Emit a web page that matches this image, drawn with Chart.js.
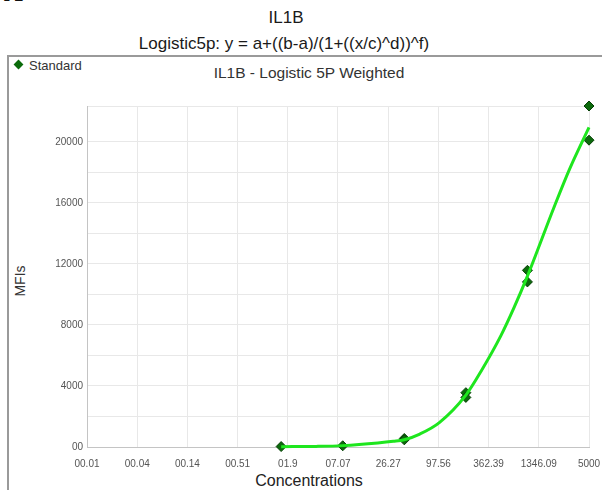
<!DOCTYPE html>
<html>
<head>
<meta charset="utf-8">
<script src="https://cdn.jsdelivr.net/npm/chart.js@4"></script>
<style>
  html, body { margin: 0; padding: 0; background: #fff; }
  body { width: 602px; height: 490px; position: relative; overflow: hidden; font-family: "Liberation Sans", Arial, sans-serif; }
  .abs { position: absolute; white-space: nowrap; }
  #frame { position: absolute; left: 7px; top: 55px; width: 620px; height: 460px; border: 2px solid #9a9a9a; box-sizing: border-box; }
  #letter { left: 4px; top: -22px; font-family: "Liberation Serif", serif; font-weight: bold; font-size: 26px; color: #111; }
  #title { left: 0; width: 572px; top: 8px; text-align: center; font-size: 17px; color: #1a1a1a; }
  #subtitle { left: 0; width: 568px; top: 34px; text-align: center; font-size: 17px; color: #1a1a1a; }
  #inner { left: 8px; width: 602px; top: 64px; text-align: center; font-size: 15.5px; color: #333; }
  #legend { left: 13px; top: 58px; font-size: 13px; color: #333; }
  #legend .lbl { display: inline-block; width: 53px; overflow: hidden; vertical-align: top; }
  #legend .mk { display: inline-block; width: 7px; height: 7px; background: #0b6b0b; transform: rotate(45deg); margin: 0 7px 0 2px; vertical-align: 2px; }
  #xtitle { left: 8px; width: 602px; top: 472px; text-align: center; font-size: 16px; color: #222; }
  #ytitle { left: 20px; top: 281px; font-size: 14px; color: #333; transform: translate(-50%, -50%) rotate(-90deg); }
  #wrap { position: absolute; left: 0; top: 0; width: 602px; height: 490px; }
</style>
</head>
<body>
<div id="frame"></div>
<div class="abs" id="letter">A</div>
<div class="abs" id="title">IL1B</div>
<div class="abs" id="subtitle">Logistic5p: y = a+((b-a)/(1+((x/c)^d))^f)</div>
<div class="abs" id="legend"><span class="mk"></span><span class="lbl">Standards</span></div>
<div class="abs" id="inner">IL1B - Logistic 5P Weighted</div>
<div class="abs" id="xtitle">Concentrations</div>
<div class="abs" id="ytitle">MFIs</div>
<div id="wrap"><canvas id="chart" width="602" height="490"></canvas></div>
<script>
// standards (duplicates)
const stdConc = [1.6, 8, 40, 40, 200, 200, 1000, 1000, 5000, 5000];
const stdMfi  = [30, 80, 560, 470, 3560, 3250, 11580, 10820, 22350, 20110];

// fitted curve at a handful of concentrations
const fitConc = [1.6, 4, 8, 20, 30, 40, 60, 100, 200, 300, 500, 700, 1000, 2000, 3000, 5000];
const fitMfi  = [20, 40, 90, 260, 370, 480, 850, 1600, 3400, 5000, 7300, 9100, 11200, 15700, 18200, 20950];

const xTickValues = [0.01, 0.0372, 0.138, 0.513, 1.906, 7.07, 26.27, 97.56, 362.39, 1346.09, 5000];
const xTickLabels = ['00.01', '00.04', '00.14', '00.51', '01.9', '07.07', '26.27', '97.56', '362.39', '1346.09', '5000'];
const yTickValues = [0, 2000, 4000, 6000, 8000, 10000, 12000, 14000, 16000, 18000, 20000, 22350];
const yTickLabels = ['00', '', '4000', '', '8000', '', '12000', '', '16000', '', '20000', ''];

const toXY = (xs, ys) => xs.map((x, i) => ({ x: x, y: ys[i] }));

new Chart(document.getElementById('chart'), {
  type: 'scatter',
  data: {
    datasets: [
      {
        label: 'Fit',
        type: 'line',
        data: toXY(fitConc, fitMfi),
        borderColor: '#1ee61e',
        borderWidth: 3,
        pointRadius: 0,
        cubicInterpolationMode: 'monotone',
        fill: false,
        clip: false
      },
      {
        label: 'Standards',
        data: toXY(stdConc, stdMfi),
        pointStyle: 'rectRot',
        pointRadius: 5,
        backgroundColor: '#0c6a0c',
        borderColor: '#064006',
        borderWidth: 1,
        clip: false
      }
    ]
  },
  options: {
    responsive: false,
    animation: false,
    layout: { padding: { left: 0, right: 13, top: 106, bottom: 0 } },
    plugins: { legend: { display: false }, title: { display: false }, tooltip: { enabled: false } },
    scales: {
      x: {
        type: 'logarithmic',
        min: 0.01,
        max: 5000,
        afterFit: (s) => { s.height = 43; s.paddingLeft = 0; s.paddingRight = 0; },
        afterBuildTicks: (s) => { s.ticks = xTickValues.map(v => ({ value: v })); },
        ticks: {
          autoSkip: false,
          maxRotation: 0,
          padding: 11,
          color: '#555',
          font: { size: 10, family: 'Liberation Sans' },
          callback: (v, i) => xTickLabels[i]
        },
        grid: { color: '#e8e8e8', drawTicks: false },
        border: { color: '#c4c4c4' }
      },
      y: {
        min: 0,
        max: 22350,
        afterFit: (s) => { s.width = 87; s.paddingTop = 0; s.paddingBottom = 0; },
        afterBuildTicks: (s) => { s.ticks = yTickValues.map(v => ({ value: v })); },
        ticks: {
          autoSkip: false,
          padding: 4,
          color: '#555',
          font: { size: 10, family: 'Liberation Sans' },
          callback: (v, i) => yTickLabels[i]
        },
        grid: { color: '#e8e8e8', drawTicks: false },
        border: { color: '#c4c4c4' }
      }
    }
  }
});
</script>
</body>
</html>
